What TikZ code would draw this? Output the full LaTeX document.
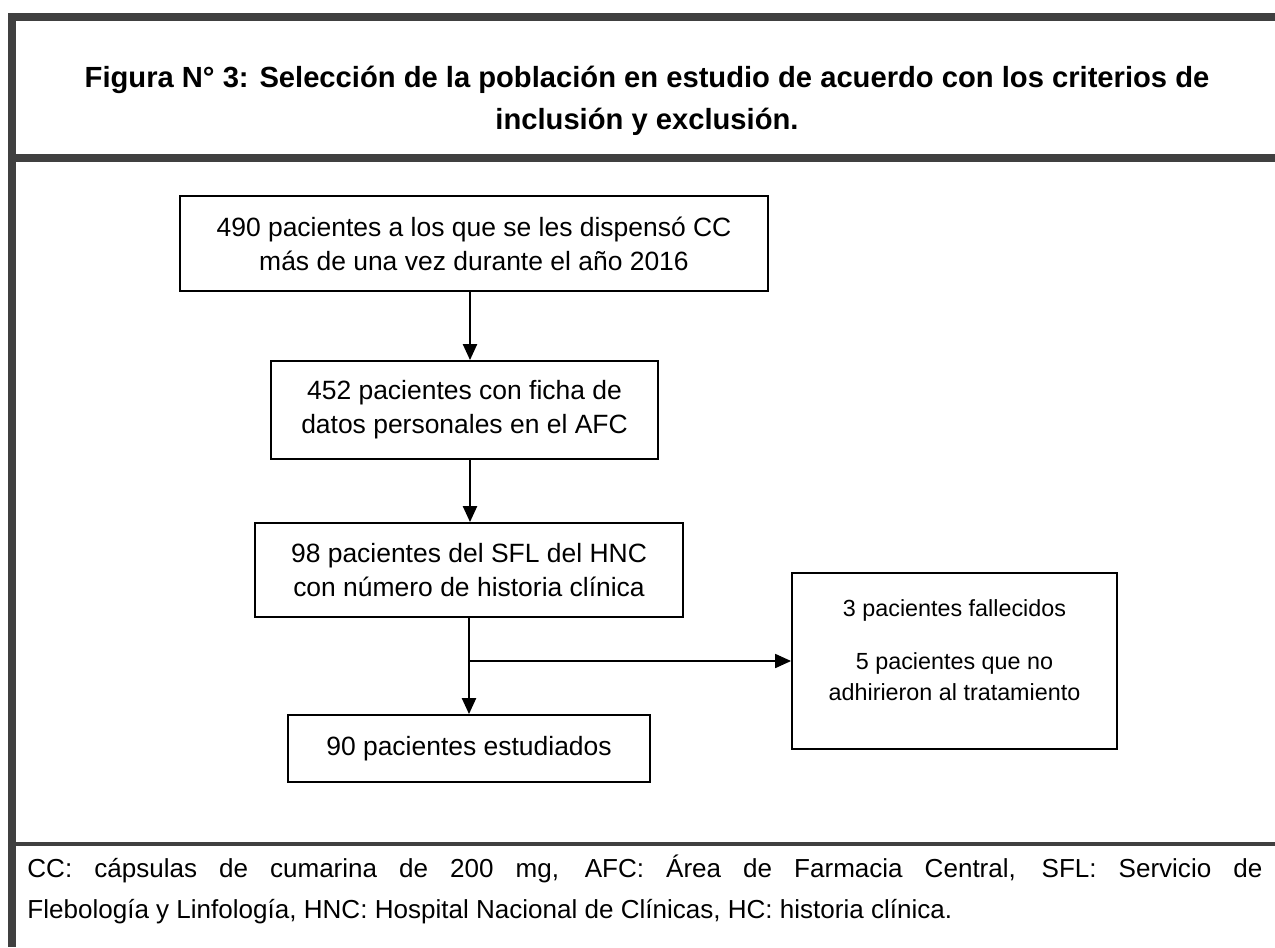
\documentclass[tikz,border=0pt]{standalone}
\usepackage{fontspec}
\setmainfont{Liberation Sans}
\usetikzlibrary{arrows.meta}
\definecolor{framegray}{HTML}{404040}
\tikzset{
  box/.style={draw=black, line width=0.96pt, align=center, inner sep=0pt,
    font=\fontsize{12.7pt}{16.4pt}\selectfont},
  txt/.style={align=center, inner sep=0pt, font=\fontsize{11.2pt}{15pt}\selectfont},
  arr/.style={-{Triangle[length=7.6pt,width=6.8pt]}, line width=0.7pt},
  thickrule/.style={draw=framegray, line width=3.84pt},
  thinrule/.style={draw=framegray, line width=1.92pt},
}
\begin{document}
\begin{tikzpicture}[x=0.48pt,y=-0.48pt]
\useasboundingbox (0,0) rectangle (1275,947);
% frame
\draw[thickrule] (8,17) -- (1275,17);
\draw[thickrule] (12,13) -- (12,947);
\draw[thickrule] (16,158) -- (1275,158);
\draw[thinrule] (16,844) -- (1275,844);
% title
\node[align=center, inner sep=0pt, anchor=north,
  font=\bfseries\fontsize{14pt}{20.2pt}\selectfont] (title) at (647,66)
  {Figura N° 3: Selección de la población en estudio de acuerdo con los criterios de\\
   inclusión y exclusión.};
% boxes
\node[box, minimum width=588*0.48pt, minimum height=95*0.48pt] (b1) at (474,243.5)
  {490 pacientes a los que se les dispensó CC\\más de una vez durante el año 2016};
\node[box, minimum width=387*0.48pt, minimum height=98*0.48pt] (b2) at (464.5,410)
  {452 pacientes con ficha de\\datos personales en el AFC};
\node[box, minimum width=428*0.48pt, minimum height=94*0.48pt] (b3) at (469,570)
  {98 pacientes del SFL del HNC\\con número de historia clínica};
\node[box, minimum width=362*0.48pt, minimum height=67*0.48pt] (b4) at (469,748.5)
  {90 pacientes estudiados};
\node[box, minimum width=325*0.48pt, minimum height=176*0.48pt] (side) at (954.5,661) {};
\node[txt, anchor=north] (sidetxt) at (954.5,599)
  {3 pacientes fallecidos\\[10.5pt]5 pacientes que no\\adhirieron al tratamiento};
% connectors
\coordinate (ax) at (470,0);
\coordinate (ax2) at (469,0);
\coordinate (br) at (469,661);
\draw[arr] (b1.south -| ax) -- (b2.north -| ax);
\draw[arr] (b2.south -| ax) -- (b3.north -| ax);
\draw[arr] (b3.south -| ax2) -- (b4.north -| ax2);
\draw[arr, line width=0.5pt] (br) -- (side.west);
% footnote
\node[text width=1235*0.48pt, align=justify, inner sep=0pt, anchor=north west,
  font=\fontsize{12.5pt}{19.7pt}\selectfont] (note) at (27,854)
  {CC: cápsulas de cumarina de 200 mg, AFC: Área de Farmacia Central, SFL: Servicio de\linebreak
   Flebología y Linfología, HNC: Hospital Nacional de Clínicas, HC: historia clínica.};
\end{tikzpicture}
\end{document}
